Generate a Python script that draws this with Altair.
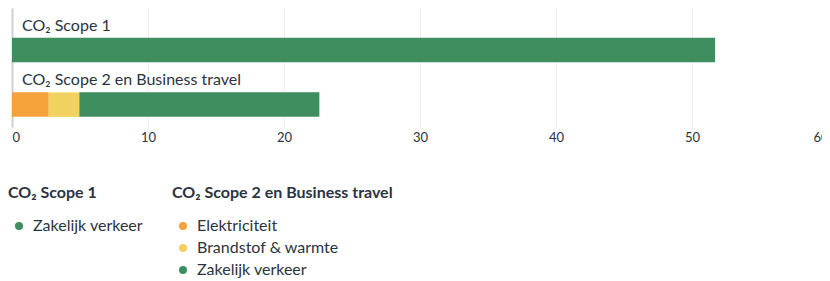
import altair as alt
import pandas as pd

FONT = "Lato"
TEXT = "#2b3440"

rows = ["CO₂ Scope 1", "CO₂ Scope 2 en Business travel"]

scope1_cats = ["Zakelijk verkeer"]
scope1_vals = [51.7]

scope2_cats = ["Elektriciteit", "Brandstof & warmte", "Zakelijk verkeer"]
scope2_vals = [2.7, 2.25, 17.65]

green = "#3f8e5f"
orange = "#f6a23b"
yellow = "#f1d160"

df1 = pd.DataFrame({"row": rows[0], "cat1": scope1_cats, "value": scope1_vals, "ord": range(len(scope1_cats))})
df2 = pd.DataFrame({"row": rows[1], "cat2": scope2_cats, "value": scope2_vals, "ord": range(len(scope2_cats))})
dlab = pd.DataFrame({"row": rows, "zero": [0, 0]})

yscale = alt.Scale(domain=rows, paddingInner=0, paddingOuter=0.09)
yenc = alt.Y("row:N", scale=yscale,
             axis=alt.Axis(labels=False, ticks=False, title=None, grid=False,
                           domain=True, domainColor="#cfcfcf", domainWidth=2))
xscale = alt.Scale(domain=[0, 60], nice=False)
xaxis = alt.Axis(values=[0, 10, 20, 30, 40, 50, 60], title=None, domain=False, ticks=False,
                 grid=True, gridColor="#efefef", labelFont=FONT, labelFontSize=13,
                 labelColor=TEXT, labelPadding=4)

leg_common = dict(orient="none", symbolType="circle", symbolSize=64, symbolOffset=3,
                  labelFont=FONT, labelFontSize=16, labelColor=TEXT, labelOffset=6,
                  titleFont=FONT, titleFontSize=16, titleFontWeight="bold", titleColor=TEXT,
                  titlePadding=17, rowPadding=6, symbolStrokeWidth=0, titleLimit=400, labelLimit=300)

bar1 = alt.Chart(df1).mark_bar(size=24.5, yOffset=9.8).encode(
    x=alt.X("value:Q", scale=xscale, axis=xaxis, stack="zero"),
    y=yenc,
    order=alt.Order("ord:Q"),
    color=alt.Color("cat1:N", scale=alt.Scale(domain=scope1_cats, range=[green]),
                    legend=alt.Legend(title=rows[0], legendX=-4, legendY=177, **leg_common)),
)

bar2 = alt.Chart(df2).mark_bar(size=24.5, yOffset=9.8).encode(
    x=alt.X("value:Q", scale=xscale, axis=xaxis, stack="zero"),
    y=yenc,
    order=alt.Order("ord:Q"),
    color=alt.Color("cat2:N", scale=alt.Scale(domain=scope2_cats, range=[orange, yellow, green]),
                    legend=alt.Legend(title=rows[1], legendX=160, legendY=177, **leg_common)),
)

labels = alt.Chart(dlab).mark_text(align="left", baseline="alphabetic", dx=10, dy=-9.5,
                                   font=FONT, fontSize=16, color=TEXT).encode(
    x=alt.X("zero:Q", scale=xscale, axis=xaxis),
    y=yenc,
    text="row:N",
)

chart = alt.layer(bar1, bar2, labels).resolve_scale(color="independent").properties(
    width=816, height=119,
    autosize=alt.AutoSizeParams(type="none"),
    padding={"left": 4, "top": 0, "right": -6, "bottom": 154},
).configure_view(stroke=None)

chart.save("out.html", embed_options={"renderer": "svg", "actions": False})
